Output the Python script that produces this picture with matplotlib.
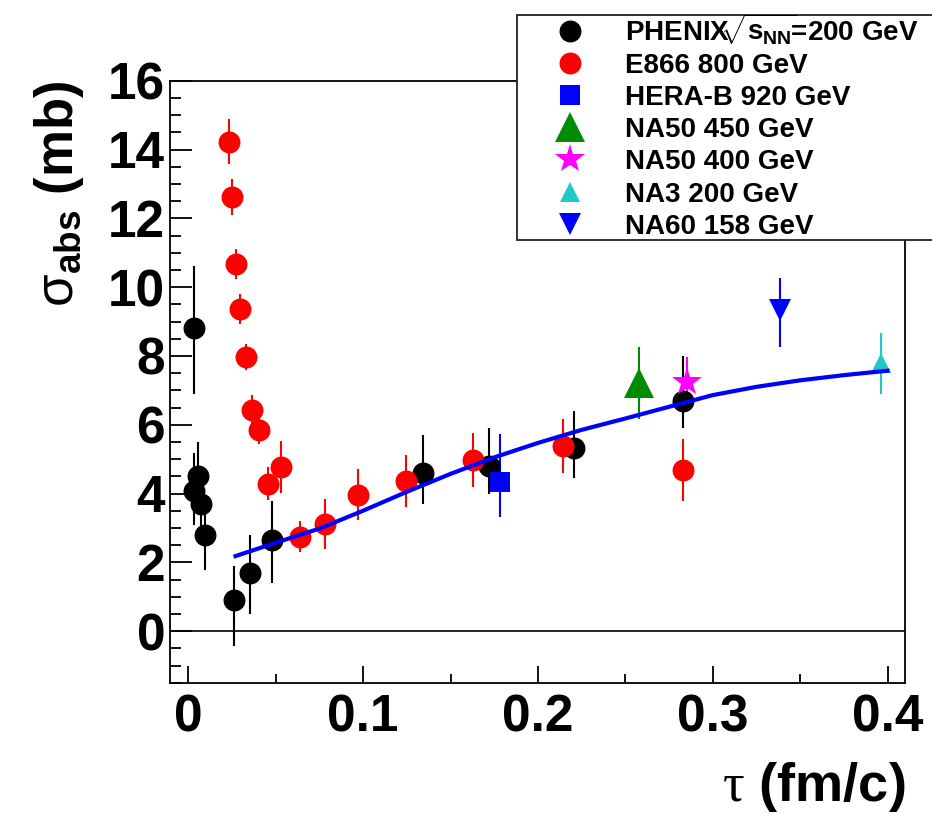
import matplotlib
matplotlib.use('Agg')
import matplotlib.pyplot as plt
from matplotlib.lines import Line2D
from matplotlib.patches import Rectangle
from matplotlib.ticker import MultipleLocator, FixedLocator, FixedFormatter

plt.rcParams['font.family'] = ['Liberation Sans', 'DejaVu Sans']
plt.rcParams['font.weight'] = 'bold'
plt.rcParams['axes.labelweight'] = 'bold'
plt.rcParams['mathtext.fontset'] = 'custom'
plt.rcParams['mathtext.rm'] = 'Liberation Serif:weight=normal'
plt.rcParams['mathtext.sf'] = 'Liberation Sans:weight=normal'
plt.rcParams['mathtext.it'] = 'Liberation Sans:weight=bold'
plt.rcParams['mathtext.bf'] = 'Liberation Sans:weight=bold'

# ---------------- data ----------------
phenix_tau = [0.0033, 0.0057, 0.0033, 0.0071, 0.0094, 0.0262, 0.0353, 0.0477,
              0.1342, 0.1721, 0.2208, 0.2828]
phenix_sig = [8.80, 4.52, 4.08, 3.69, 2.79, 0.90, 1.70, 2.65, 4.61, 4.80, 5.31, 6.70]
phenix_lo = [1.90, 1.00, 1.00, 1.00, 1.00, 1.33, 1.20, 1.26, 0.92, 0.81, 0.85, 0.81]
phenix_hi = [1.80, 0.97, 1.10, 1.00, 1.00, 1.00, 1.10, 1.14, 1.08, 1.10, 1.09, 1.30]

e866_tau = [0.0235, 0.0252, 0.0273, 0.0296, 0.0328, 0.0363, 0.0405, 0.0458,
            0.0529, 0.0639, 0.0779, 0.0973, 0.1244, 0.1631, 0.2143, 0.2828]
e866_sig = [14.23, 12.63, 10.68, 9.36, 7.98, 6.43, 5.85, 4.28,
            4.78, 2.74, 3.11, 3.96, 4.36, 4.97, 5.39, 4.68]
e866_err = [0.65, 0.52, 0.44, 0.43, 0.38, 0.44, 0.42, 0.48,
            0.76, 0.45, 0.72, 0.74, 0.76, 0.78, 0.78, 0.90]

herab_tau = [0.1784]
herab_sig = [4.34]
herab_lo = [1.02]
herab_hi = [1.39]

na50_450_tau = [0.258]
na50_450_sig = [7.21]
na50_450_err = [1.05]

na50_400_tau = [0.2853]
na50_400_sig = [7.25]
na50_400_err = [0.71]

na3_tau = [0.396]
na3_sig = [7.78]
na3_err = [0.88]

na60_tau = [0.3383]
na60_sig = [9.32]
na60_lo = [1.05]
na60_hi = [0.94]

curve_tau = [0.027, 0.05, 0.075, 0.1, 0.125, 0.15, 0.175, 0.2,
             0.225, 0.25, 0.275, 0.3, 0.325, 0.35, 0.375, 0.4]
curve_sig = [2.18, 2.57, 2.98, 3.50, 4.05, 4.57, 5.05, 5.47,
             5.85, 6.18, 6.52, 6.86, 7.10, 7.29, 7.44, 7.57]

legend_labels = [r'PHENIX$\!\!\sqrt{s_{NN}}\!$=200 GeV', 'E866 800 GeV', 'HERA-B 920 GeV',
                 'NA50 450 GeV', 'NA50 400 GeV', 'NA3 200 GeV', 'NA60 158 GeV']
x_tick_values = [0, 0.1, 0.2, 0.3, 0.4]
x_tick_labels = ['0', '0.1', '0.2', '0.3', '0.4']
y_tick_values = [0, 2, 4, 6, 8, 10, 12, 14, 16]
y_tick_labels = ['0', '2', '4', '6', '8', '10', '12', '14', '16']

# ---------------- figure ----------------
W, H = 932, 815
fig = plt.figure(figsize=(W / 100, H / 100), dpi=100)
ax = fig.add_axes([170 / W, 1 - 682.7 / H, 735 / W, 602 / H])
ax.set_xlim(-0.0105, 0.41)
ax.set_ylim(-1.5, 16)

series = [
    dict(x=phenix_tau, y=phenix_sig, err=[phenix_lo, phenix_hi], marker='o', color='black', ms=15.8),
    dict(x=e866_tau, y=e866_sig, err=e866_err, marker='o', color='#ff0000', ms=15.8),
    dict(x=herab_tau, y=herab_sig, err=[herab_lo, herab_hi], marker='s', color='#0000ff', ms=14.5),
    dict(x=na50_450_tau, y=na50_450_sig, err=na50_450_err, marker='^', color='#008c00', ms=22),
    dict(x=na50_400_tau, y=na50_400_sig, err=na50_400_err, marker='*', color='#ff00ff', ms=22),
    dict(x=na3_tau, y=na3_sig, err=na3_err, marker='^', color='#22c8c8', ms=14.5),
    dict(x=na60_tau, y=na60_sig, err=[na60_lo, na60_hi], marker='v', color='#0000ff', ms=15.5),
]

ax.axhline(0, color='black', lw=1.2, zorder=1)

for s in series:
    ax.errorbar(s['x'], s['y'], yerr=s['err'], fmt=s['marker'], color=s['color'],
                ms=s['ms'], mew=0, elinewidth=1.5, capsize=3.2, capthick=1.6, zorder=3)

ax.plot(curve_tau, curve_sig, color='#0000ff', lw=3, zorder=5)

# axes styling
for sp in ax.spines.values():
    sp.set_linewidth(1.3)
ax.xaxis.set_major_locator(FixedLocator(x_tick_values))
ax.xaxis.set_major_formatter(FixedFormatter(x_tick_labels))
ax.xaxis.set_minor_locator(MultipleLocator(0.05))
ax.yaxis.set_major_locator(FixedLocator(y_tick_values))
ax.yaxis.set_major_formatter(FixedFormatter(y_tick_labels))
ax.yaxis.set_minor_locator(MultipleLocator(0.5))
ax.tick_params(which='both', direction='in', top=False, right=False, width=1.3)
ax.tick_params(axis='x', which='major', length=12.2, pad=8, labelsize=37)
ax.tick_params(axis='x', which='minor', length=6.5)
ax.tick_params(axis='y', which='major', length=15.8, pad=3.5, labelsize=37)
ax.tick_params(axis='y', which='minor', length=7.9)

ax.set_ylabel(r'$\mathsf{\sigma}_{abs}$ (mb)', fontsize=38, fontweight='bold', loc='top')
ax.yaxis.set_label_coords(-0.114, 1.0)
ax.set_xlabel(r'$\mathrm{\tau}$ (fm/c)', fontsize=39, fontweight='bold', loc='right')
ax.xaxis.set_label_coords(1.0, -0.128)

# legend box
fig.add_artist(Rectangle((517 / W, 1 - 240 / H), (980 - 517) / W, 225 / H,
                         transform=fig.transFigure, facecolor='white',
                         edgecolor='#222222', lw=1.3, zorder=10, clip_on=False))
row0, dy = 30.5, 32.2
for i, (s, lab) in enumerate(zip(series, legend_labels)):
    yc = row0 + i * dy
    fig.add_artist(Line2D([570 / W], [1 - yc / H], marker=s['marker'], color=s['color'],
                          ms=s['ms'], mew=0, linestyle='none',
                          transform=fig.transFigure, zorder=11))
    fig.text(625 / W, 1 - (yc + 10) / H, lab, fontsize=20, fontweight='bold',
             va='baseline', ha='left', zorder=11)

fig.savefig('out.png', dpi=100)
